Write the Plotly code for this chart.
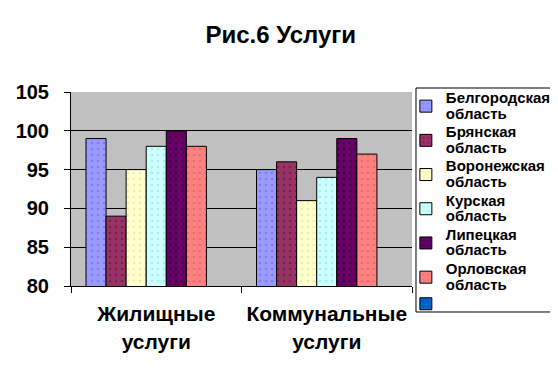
import plotly.graph_objects as go

categories = ["Жилищные<br>услуги", "Коммунальные<br>услуги"]
region_names = ["Белгородская", "Брянская", "Воронежская", "Курская", "Липецкая", "Орловская", ""]
second_line = ["область", "область", "область", "область", "область", "область", ""]
belgorod = [99, 95]
bryansk = [89, 96]
voronezh = [95, 91]
kursk = [98, 94]
lipetsk = [100, 99]
orel = [98, 97]
empty = [0, 0]  # blank 7th series: occupies a slot but draws nothing in range
values = [belgorod, bryansk, voronezh, kursk, lipetsk, orel, empty]
colors = ["#9999FF", "#993366", "#FFFFCC", "#CCFFFF", "#660066", "#FF8080", "#0066CC"]
dots = ["#6666DD", "#551133", "#DDDD99", "#88DDDD", "#220022", "#DD5555", "#003388"]

span = "<span style='font-size:15px'>{}</span>"

fig = go.Figure()
for r, s, vals, c, d in zip(region_names, second_line, values, colors, dots):
    name = span.format(r) + "<br>" + span.format(s) if r else " "
    fig.add_trace(go.Bar(
        x=categories, y=vals, name=name,
        marker=dict(color=c, line=dict(color="black", width=1),
                    pattern=dict(shape=".", fgcolor=d, size=6, solidity=0.15)),
    ))

font = "Liberation Sans, Arial, sans-serif"
# page body has an 8px default margin, so the figure is sized 8px smaller
fig.update_layout(
    width=550, height=368,
    margin=dict(l=63, r=146, t=84, b=90, autoexpand=False),
    paper_bgcolor="white", plot_bgcolor="#C0C0C0",
    barmode="group", bargap=0.176, bargroupgap=0,
    title=dict(text="Рис.6 Услуги", x=0.496, xanchor="center", y=0.927, yanchor="middle",
               font=dict(family=font, size=24, color="black", weight="bold")),
    showlegend=True,
    legend=dict(x=0.982, y=1.041, xanchor="left", yanchor="top",
                borderwidth=0, bgcolor="rgba(0,0,0,0)",
                font=dict(family=font, size=12, color="black", weight="bold"),
                tracegroupgap=0, itemwidth=30, maxheight=400),
    shapes=[dict(type="rect", xref="paper", yref="paper",
                 x0=1.0117, x1=1.4106, y0=-0.134, y1=1.0206,
                 line=dict(color="black", width=1), fillcolor="rgba(0,0,0,0)",
                 layer="above")],
    xaxis=dict(showline=True, linecolor="black", linewidth=1, ticks="outside",
               tickson="boundaries", ticklen=6, tickcolor="black", automargin=False,
               tickfont=dict(family=font, size=21, color="black", weight="bold"),
               ticklabelstandoff=9, mirror=False),
    yaxis=dict(range=[80, 105], dtick=5, showline=True, linecolor="black", linewidth=1,
               ticks="outside", ticklen=6, tickcolor="black", ticklabelstandoff=11,
               showgrid=True, gridcolor="black", gridwidth=1, automargin=False,
               tickfont=dict(family=font, size=20, color="black", weight="bold"), zeroline=False),
)
fig.write_html("out.html")
